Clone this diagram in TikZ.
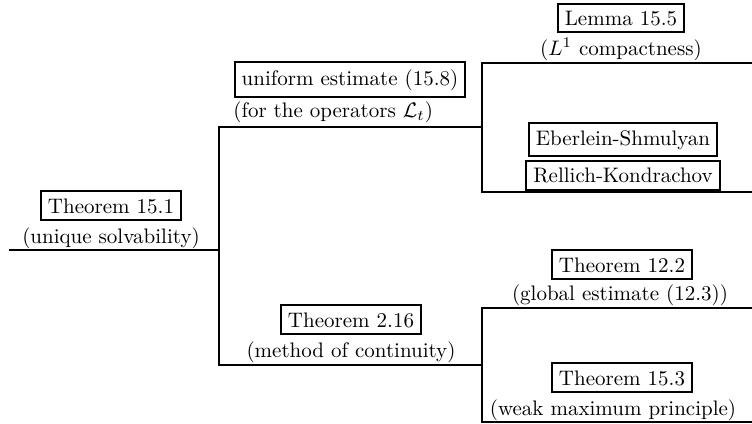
\documentclass[tikz,border=0pt]{standalone}
\usepackage{amsmath}
\usepackage{amsfonts}
\usepackage{tikz}
\usetikzlibrary{calc}

\tikzset{
  branch/.style={line width=1pt},
  thm/.style={draw, line width=1pt, anchor=base, inner sep=3.33pt},
  note/.style={anchor=base, inner sep=0pt}
}

\begin{document}
\begin{tikzpicture}[x=0.5pt, y=-0.5pt, every node/.style={scale=1.05}]
    \useasboundingbox (0,0) rectangle (752,424);

    % end points of the tree
    \coordinate (a0) at (9,250);
    \coordinate (a1) at (218.5,250);
    \coordinate (b0) at (218.5,127);
    \coordinate (b1) at (482,127);
    \coordinate (c0) at (218.5,365);
    \coordinate (c1) at (482,365);
    \coordinate (d0) at (482,62.5);
    \coordinate (d1) at (752,62.5);
    \coordinate (e0) at (482,192);
    \coordinate (e1) at (752,192);
    \coordinate (f0) at (482,307.5);
    \coordinate (f1) at (752,307.5);
    \coordinate (g0) at (482,422);
    \coordinate (g1) at (752,422);

    % branches
    \draw[branch] (a0) -- (a1);
    \draw[branch] (b1) -- (b0) -- (c0) -- (c1);
    \draw[branch] (d1) -- (d0) -- (e0) -- (e1);
    \draw[branch] (f1) -- (f0) -- (g0) -- (g1);

    % root
    \node[note] (s151) at (111,243) {(unique solvability)};
    \node[thm] (t151) at ([yshift=15pt]s151.base) {Theorem 15.1};

    % upper branch
    \node[note, anchor=base west] (sop) at (233,117) {(for the operators $\mathcal{L}_t$)};
    \node[thm] (t158) at (350,85) {uniform estimate (15.8)};

    \node[note] (s155) at (621,55) {($L^1$ compactness)};
    \node[thm] (t155) at ([yshift=15pt]s155.base) {Lemma 15.5};

    \node[thm] (tes) at (623,145) {Eberlein-Shmulyan};
    \node[thm] (trk) at (623,182.5) {Rellich-Kondrachov};

    % lower branch
    \node[note] (s216) at (351,357) {(method of continuity)};
    \node[thm] (t216) at ([yshift=15pt]s216.base) {Theorem 2.16};

    \node[note] (s122) at (620,300) {(global estimate (12.3))};
    \node[thm] (t122) at (622,272) {Theorem 12.2};

    \node[note] (s153) at (613,415) {(weak maximum principle)};
    \node[thm] (t153) at (622,385) {Theorem 15.3};
\end{tikzpicture}
\end{document}
